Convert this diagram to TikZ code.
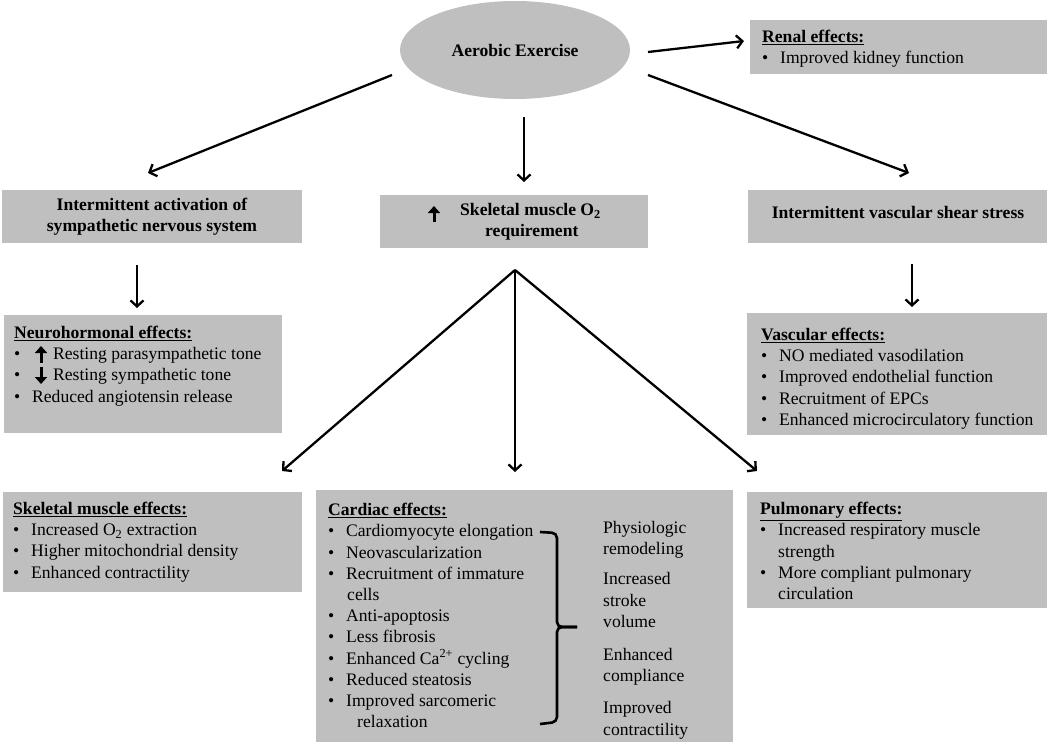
\documentclass[tikz,border=0pt]{standalone}
\usepackage{fontspec}
\setmainfont{Liberation Serif}
\usetikzlibrary{arrows.meta,shapes.geometric}
\definecolor{boxgray}{RGB}{191,191,191}
\newcommand{\txt}{\fontsize{17.6}{21.2}\selectfont}
\newcommand{\bl}{\makebox[18pt][l]{\textbullet}}
\newcommand{\ind}{\hspace*{18pt}}
\begin{document}
\begin{tikzpicture}[x=1pt,y=-1pt,
  box/.style={fill=boxgray,draw=none,inner sep=0,anchor=north west},
  bodytext/.style={anchor=north west,inner sep=0,align=left,font=\txt},
  headtext/.style={inner sep=0,align=center,font=\txt\bfseries},
  arr/.style={line width=2.3pt,-{Straight Barb[length=6pt,width=13pt]}},
  symarr/.style={line width=3pt,-{Triangle[length=7pt,width=12pt]}}]
\useasboundingbox (0,0) rectangle (1050,742);

% ellipse
\node[ellipse,fill=boxgray,minimum width=230pt,minimum height=98pt,inner sep=0,
      font=\txt\bfseries] (ae) at (515,50) {Aerobic Exercise};

% boxes
\node[box,minimum width=297pt,minimum height=54pt] (renal) at (750,20) {};
\node[box,minimum width=300pt,minimum height=53pt] (iasn) at (2,190) {};
\node[box,minimum width=268pt,minimum height=53pt] (smo2) at (380,195) {};
\node[box,minimum width=299pt,minimum height=53pt] (ivss) at (748,190) {};
\node[box,minimum width=278pt,minimum height=118pt] (neuro) at (4,315) {};
\node[box,minimum width=300pt,minimum height=122pt] (vasc) at (747,313) {};
\node[box,minimum width=299pt,minimum height=100pt] (skm) at (3,492) {};
\node[box,minimum width=417pt,minimum height=252pt] (card) at (316,490) {};
\node[box,minimum width=300pt,minimum height=116pt] (pulm) at (747,492) {};

% header texts
\node[headtext] (iasnT) at (152,217) {Intermittent activation of\\sympathetic nervous system};
\node[headtext,anchor=west,align=left] (smo2T) at (460,222)
  {Skeletal muscle O\textsubscript{2}\\\hspace*{25pt}requirement};
\node[headtext] (ivssT) at (898,212) {Intermittent vascular shear stress};

% body texts
\node[bodytext] (renalT) at (762,30) {\underline{\textbf{Renal effects:}}\\
  \bl Improved kidney function};
\node[bodytext] (neuroT) at (14,326) {\underline{\textbf{Neurohormonal effects:}}\\
  \bl\hspace*{21pt}Resting parasympathetic tone\\
  \bl\hspace*{21pt}Resting sympathetic tone\\
  \bl Reduced angiotensin release};
\node[bodytext] (vascT) at (761,328) {\underline{\textbf{Vascular effects:}}\\
  \bl NO mediated vasodilation\\
  \bl Improved endothelial function\\
  \bl Recruitment of EPCs\\
  \bl Enhanced microcirculatory function};
\node[bodytext] (skmT) at (13,502) {\underline{\textbf{Skeletal muscle effects:}}\\
  \bl Increased O\textsubscript{2} extraction\\
  \bl Higher mitochondrial density\\
  \bl Enhanced contractility};
\node[bodytext] (cardT) at (328,503) {\underline{\textbf{Cardiac effects:}}\\
  \bl Cardiomyocyte elongation\\
  \bl Neovascularization\\
  \bl Recruitment of immature\\
  \ind\hspace*{1pt}cells\\
  \bl Anti-apoptosis\\
  \bl Less fibrosis\\
  \bl Enhanced Ca\textsuperscript{2+} cycling\\
  \bl Reduced steatosis\\
  \bl Improved sarcomeric\\
  \ind\hspace*{11pt}relaxation};
\node[bodytext] (cardR) at (603,521) {Physiologic\\remodeling\\[9pt]
  Increased\\stroke\\volume\\[12pt]
  Enhanced\\compliance\\[11pt]
  Improved\\contractility};
\node[bodytext] (pulmT) at (760,502) {\underline{\textbf{Pulmonary effects:}}\\
  \bl Increased respiratory muscle\\
  \ind strength\\
  \bl More compliant pulmonary\\
  \ind circulation};

% up / down symbols
\draw[symarr] (434,222) -- (434,206);
\draw[symarr] (41,363) -- (41,346);
\draw[symarr] (41,367) -- (41,384);

% brace
\draw[line width=2.6pt,rounded corners=5pt] (540,532) -- (557,533) -- (557,627) -- (577,627);
\draw[line width=2.6pt,rounded corners=5pt] (577,627) -- (557,627) -- (557,722) -- (540,724);

% connector end points
\coordinate (aeL) at (392,75);
\coordinate (iasnIn) at (148,173);
\coordinate (aeB) at (524,117);
\coordinate (smo2In) at (524,182);
\coordinate (aeR) at (648,75);
\coordinate (ivssIn) at (909,173);
\coordinate (aeRn) at (648,52);
\coordinate (renalIn) at (744,41);
\coordinate (iasnOut) at (137,265);
\coordinate (neuroIn) at (137,308);
\coordinate (ivssOut) at (912,264);
\coordinate (vascIn) at (912,307);
\coordinate (fan) at (515,270);
\coordinate (skmIn) at (282,471);
\coordinate (cardIn) at (515,472);
\coordinate (pulmIn) at (757,471);

\draw[arr] (aeL) -- (iasnIn);
\draw[arr] (aeB) -- (smo2In);
\draw[arr] (aeR) -- (ivssIn);
\draw[arr] (aeRn) -- (renalIn);
\draw[arr] (iasnOut) -- (neuroIn);
\draw[arr] (ivssOut) -- (vascIn);
\draw[arr] (fan) -- (skmIn);
\draw[arr] (fan) -- (cardIn);
\draw[arr] (fan) -- (pulmIn);
\end{tikzpicture}
\end{document}
